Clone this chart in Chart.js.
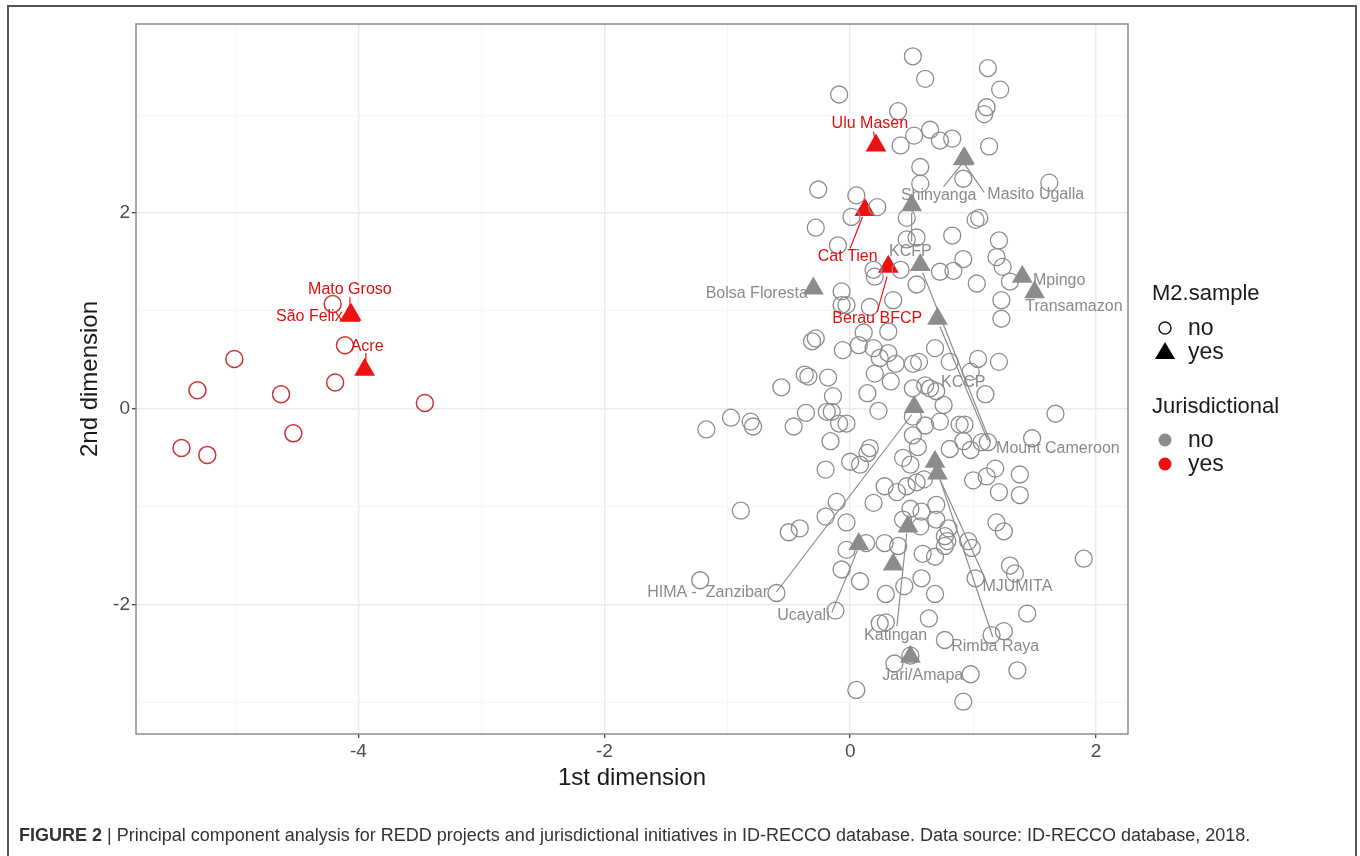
<!DOCTYPE html>
<html>
<head>
<meta charset="utf-8">
<script src="https://cdn.jsdelivr.net/npm/chart.js@4/dist/chart.umd.min.js"></script>
<style>
  html, body { margin: 0; padding: 0; background: #fff; }
  #wrap { position: relative; width: 1360px; height: 856px; overflow: hidden; }
  #frame { position: absolute; left: 7px; top: 5px; width: 1350px; height: 900px; border: 2px solid #555; box-sizing: border-box; }
  #chart { position: absolute; left: 0; top: 0; }
  #caption { position: absolute; left: 19px; top: 825px; font: 18px "Liberation Sans", Arial, sans-serif; color: #333; white-space: nowrap; }
  #caption b { font-weight: bold; }
</style>
</head>
<body>
<div id="wrap">
  <div id="frame"></div>
  <canvas id="chart" width="1360" height="856"></canvas>
  <div id="caption"><b>FIGURE 2</b> | Principal component analysis for REDD projects and jurisdictional initiatives in ID-RECCO database. Data source: ID-RECCO database, 2018.</div>
</div>
<script>
// axis ranges and tick labels
const xRange = [-5.81, 2.26];
const yRange = [-3.32, 3.93];
const xTickLabels = [-4, -2, 0, 2];
const yTickLabels = [-2, 0, 2];

// M2.sample = no, Jurisdictional = no (open grey circles)
const greyCircleX = [0.51, 0.61, 1.12, 1.22, -0.09, 1.11, 1.09, 0.39, 0.65, 0.52, 0.41, 0.73, 0.83, 1.13, 0.57, 0.92, 0.57, 1.62, -0.26, 0.05,
  0.22, 0.01, 0.46, 1.02, 1.05, -0.28, 0.83, -0.10, 0.46, 0.54, 1.21, 1.19, 0.92, 1.24, 0.73, 0.84, 0.41, 0.19, 0.20, 1.03,
  1.30, -0.07, 0.54, -0.07, -0.03, 0.16, 0.35, 1.23, 1.23, 0.11, 0.31, -0.31, -0.28, -0.06, 0.07, 0.19, 0.31, 0.24, 0.37, 0.51,
  0.56, 0.69, 0.81, 1.04, 1.21, 0.20, 0.33, 0.98, -0.37, -0.34, -0.18, -0.56, -0.14, 0.14, 0.51, 0.61, 0.65, 0.70, 0.76, 1.10,
  1.67, -1.17, -0.97, -0.81, -0.79, -0.46, -0.36, -0.19, -0.15, -0.09, -0.03, 0.23, -0.16, 0.51, 0.61, 0.73, 0.89, 0.93, 0.51, 0.55,
  0.81, 0.92, 0.98, 1.07, 1.12, 1.48, 0.00, 0.08, 0.14, 0.16, -0.20, 0.43, 0.49, 1.00, 1.11, 1.18, 1.38, 1.21, 1.38, 0.28,
  0.38, 0.46, 0.54, 0.60, -0.11, 0.19, -0.89, -0.20, -0.50, -0.41, -0.03, 0.49, 0.58, 0.70, 0.43, 0.57, 0.70, 0.80, 1.19, 1.25,
  0.13, 0.28, 0.39, -0.03, 0.77, 0.79, 0.77, 0.96, 0.99, 0.59, 0.69, -0.07, 1.30, 1.34, 1.90, 0.08, 0.58, 0.44, 1.02, -1.22,
  0.29, 0.69, -0.60, -0.12, 1.44, 0.64, 0.24, 0.29, 1.15, 1.25, 0.77, 0.36, 0.49, 0.98, 1.36, 0.05, 0.92];
const greyCircleY = [3.60, 3.37, 3.48, 3.26, 3.21, 3.08, 3.01, 3.04, 2.85, 2.79, 2.69, 2.74, 2.76, 2.68, 2.47, 2.35, 2.30, 2.31, 2.24, 2.18,
  2.06, 1.96, 1.95, 1.93, 1.95, 1.85, 1.77, 1.67, 1.73, 1.75, 1.72, 1.55, 1.53, 1.45, 1.40, 1.41, 1.42, 1.42, 1.35, 1.28,
  1.30, 1.20, 1.27, 1.06, 1.06, 1.04, 1.11, 1.11, 0.92, 0.78, 0.79, 0.69, 0.72, 0.60, 0.65, 0.62, 0.57, 0.52, 0.46, 0.46,
  0.48, 0.62, 0.48, 0.51, 0.48, 0.36, 0.28, 0.38, 0.35, 0.33, 0.32, 0.22, 0.13, 0.16, 0.21, 0.24, 0.21, 0.18, 0.04, 0.15,
  -0.05, -0.21, -0.09, -0.13, -0.18, -0.18, -0.04, -0.03, -0.03, -0.15, -0.15, -0.02, -0.33, -0.08, -0.17, -0.13, -0.16, -0.16, -0.27, -0.39,
  -0.41, -0.33, -0.42, -0.34, -0.34, -0.30, -0.54, -0.57, -0.45, -0.40, -0.62, -0.50, -0.57, -0.73, -0.69, -0.61, -0.67, -0.85, -0.88, -0.79,
  -0.85, -0.79, -0.75, -0.72, -0.95, -0.96, -1.04, -1.10, -1.26, -1.22, -1.16, -1.02, -1.05, -0.98, -1.13, -1.20, -1.13, -1.22, -1.16, -1.25,
  -1.37, -1.37, -1.40, -1.44, -1.30, -1.35, -1.40, -1.35, -1.42, -1.48, -1.51, -1.64, -1.60, -1.68, -1.53, -1.76, -1.73, -1.81, -1.73, -1.75,
  -1.89, -1.89, -1.88, -2.06, -2.09, -2.14, -2.19, -2.18, -2.31, -2.27, -2.36, -2.60, -2.52, -2.71, -2.67, -2.87, -2.99];

// M2.sample = no, Jurisdictional = yes (open red circles)
const redCircleX = [-4.21, -4.11, -5.01, -5.31, -4.19, -4.63, -3.46, -4.53, -5.44, -5.23];
const redCircleY = [1.07, 0.65, 0.51, 0.19, 0.27, 0.15, 0.06, -0.25, -0.40, -0.47];

// M2.sample = yes, Jurisdictional = no (grey triangles)
const greyTriX = [-0.30, 0.92, 0.93, 0.50, 0.57, 1.40, 1.50, 0.71, 0.52, 0.69, 0.71, 0.47, 0.07, 0.35, 0.49];
const greyTriY = [1.23, 2.55, 2.56, 2.08, 1.47, 1.35, 1.19, 0.92, 0.02, -0.54, -0.66, -1.20, -1.38, -1.59, -2.53];

// M2.sample = yes, Jurisdictional = yes (red triangles)
const redTriX = [-4.07, -4.06, -3.95, 0.21, 0.12, 0.31];
const redTriY = [0.95, 0.96, 0.40, 2.69, 2.03, 1.45];

// repelled text labels
const labelNames = ['Mato Groso', 'São Felix', 'Acre', 'Ulu Masen', 'Cat Tien', 'Berau BFCP',
  'Shinyanga', 'Masito Ugalla', 'KCFP', 'Bolsa Floresta', 'Mpingo', 'Transamazon', 'KCCP', 'Mount Cameroon',
  'HIMA -  Zanzibar', 'MJUMITA', 'Ucayali', 'Katingan', 'Rimba Raya', 'Jari/Amapa'];
const labelX = [-4.07, -4.40, -3.93, 0.16, -0.02, 0.22, 0.72, 1.51, 0.49, -0.76, 1.70, 1.82, 0.92, 1.69, -1.16, 1.36, -0.38, 0.37, 1.18, 0.59];
const labelY = [1.22, 0.94, 0.64, 2.91, 1.55, 0.92, 2.18, 2.19, 1.61, 1.18, 1.31, 1.04, 0.27, -0.41, -1.88, -1.81, -2.11, -2.32, -2.43, -2.72];
const labelJur = ['yes', 'yes', 'yes', 'yes', 'yes', 'yes', 'no', 'no', 'no', 'no', 'no', 'no', 'no', 'no', 'no', 'no', 'no', 'no', 'no', 'no'];

// label leader segments
const segX1 = [-4.07, -3.94, 0.19, 0.10, 0.30, 0.92, 0.92, 0.50, 0.59, 0.73, 0.50, 0.73, 0.73, 0.46, 0.06];
const segY1 = [1.14, 0.57, 2.83, 1.96, 1.35, 2.52, 2.52, 2.00, 1.39, 0.84, -0.06, -0.72, -0.72, -1.27, -1.44];
const segX2 = [-4.07, -3.94, 0.20, 0.00, 0.22, 0.76, 1.09, 0.50, 1.14, 1.12, -0.60, 1.10, 1.16, 0.38, -0.15];
const segY2 = [1.02, 0.49, 2.76, 1.64, 0.99, 2.27, 2.21, 1.71, -0.34, -0.32, -1.87, -1.74, -2.33, -2.22, -2.08];
const segJur = ['yes', 'yes', 'yes', 'yes', 'yes', 'no', 'no', 'no', 'no', 'no', 'no', 'no', 'no', 'no', 'no'];

const GREY = '#8c8c8c';
const RED = '#ee1111';
const RED_OPEN = '#c93434';
const FONT = '"Liberation Sans", Arial, Helvetica, sans-serif';

const toPoints = (xs, ys) => xs.map((v, i) => ({ x: v, y: ys[i] }));

const overlay = {
  id: 'overlay',
  afterDatasetsDraw(chart) {
    const { ctx, scales: { x, y } } = chart;
    ctx.save();
    ctx.lineWidth = 1.2;
    segX1.forEach((v, i) => {
      ctx.strokeStyle = segJur[i] === 'yes' ? RED : GREY;
      ctx.beginPath();
      ctx.moveTo(x.getPixelForValue(v), y.getPixelForValue(segY1[i]));
      ctx.lineTo(x.getPixelForValue(segX2[i]), y.getPixelForValue(segY2[i]));
      ctx.stroke();
    });
    ctx.font = '16px ' + FONT;
    ctx.textAlign = 'center';
    ctx.textBaseline = 'middle';
    labelNames.forEach((name, i) => {
      ctx.fillStyle = labelJur[i] === 'yes' ? '#dd1111' : '#8a8a8a';
      ctx.fillText(name, x.getPixelForValue(labelX[i]), y.getPixelForValue(labelY[i]));
    });
    ctx.restore();
  },
  afterDraw(chart) {
    const { ctx, chartArea: a } = chart;
    ctx.save();
    // panel border
    ctx.strokeStyle = '#8a8a8a';
    ctx.lineWidth = 1.5;
    ctx.strokeRect(a.left, a.top, a.right - a.left, a.bottom - a.top);

    // axis titles
    ctx.fillStyle = '#1a1a1a';
    ctx.font = '24px ' + FONT;
    ctx.textAlign = 'center';
    ctx.textBaseline = 'middle';
    ctx.fillText('1st dimension', (a.left + a.right) / 2, 778);
    ctx.save();
    ctx.translate(90, (a.top + a.bottom) / 2);
    ctx.rotate(-Math.PI / 2);
    ctx.fillText('2nd dimension', 0, 0);
    ctx.restore();

    // legend
    const lx = 1152, sx = 1165, tx = 1188;
    ctx.textAlign = 'left';
    ctx.fillStyle = '#1a1a1a';
    ctx.font = '22px ' + FONT;
    ctx.fillText('M2.sample', lx, 294);
    ctx.fillText('Jurisdictional', lx, 407);
    ctx.font = '23px ' + FONT;
    ctx.fillText('no', tx, 329);
    ctx.fillText('yes', tx, 353);
    ctx.fillText('no', tx, 441);
    ctx.fillText('yes', tx, 465);

    ctx.strokeStyle = '#1a1a1a';
    ctx.lineWidth = 1.5;
    ctx.beginPath();
    ctx.arc(sx, 328, 6, 0, Math.PI * 2);
    ctx.stroke();
    ctx.fillStyle = '#000';
    ctx.beginPath();
    ctx.moveTo(sx, 342);
    ctx.lineTo(sx + 10, 359);
    ctx.lineTo(sx - 10, 359);
    ctx.closePath();
    ctx.fill();
    ctx.fillStyle = GREY;
    ctx.beginPath();
    ctx.arc(sx, 440, 6.5, 0, Math.PI * 2);
    ctx.fill();
    ctx.fillStyle = RED;
    ctx.beginPath();
    ctx.arc(sx, 464, 6.5, 0, Math.PI * 2);
    ctx.fill();
    ctx.restore();
  }
};

const axisCommon = (labels) => ({
  type: 'linear',
  border: { display: false },
  grid: {
    color: c => labels.includes(c.tick.value) ? '#ebebeb' : '#f5f5f5',
    lineWidth: c => labels.includes(c.tick.value) ? 1.4 : 0.9,
    tickColor: c => labels.includes(c.tick.value) ? '#333' : 'rgba(0,0,0,0)',
    tickLength: 4,
    tickWidth: 1.2
  },
  ticks: {
    stepSize: 1,
    includeBounds: false,
    autoSkip: false,
    maxRotation: 0,
    color: '#4d4d4d',
    font: { family: FONT, size: 19 },
    padding: 2,
    callback: v => labels.includes(v) ? String(v) : ''
  }
});

new Chart(document.getElementById('chart'), {
  type: 'scatter',
  data: {
    datasets: [
      { label: 'grey circles', data: toPoints(greyCircleX, greyCircleY), pointStyle: 'circle', pointRadius: 8.5,
        borderColor: GREY, backgroundColor: 'rgba(0,0,0,0)', borderWidth: 1.3 },
      { label: 'red circles', data: toPoints(redCircleX, redCircleY), pointStyle: 'circle', pointRadius: 8.5,
        borderColor: RED_OPEN, backgroundColor: 'rgba(0,0,0,0)', borderWidth: 1.5 },
      { label: 'grey triangles', data: toPoints(greyTriX, greyTriY), pointStyle: 'triangle', pointRadius: 12,
        borderColor: GREY, backgroundColor: GREY, borderWidth: 0 },
      { label: 'red triangles', data: toPoints(redTriX, redTriY), pointStyle: 'triangle', pointRadius: 12,
        borderColor: RED, backgroundColor: RED, borderWidth: 0 }
    ]
  },
  options: {
    responsive: false,
    animation: false,
    events: [],
    layout: { padding: { left: 0, top: 24, right: 232, bottom: 0 } },
    plugins: { legend: { display: false }, tooltip: { enabled: false } },
    scales: {
      x: Object.assign(axisCommon(xTickLabels), {
        min: xRange[0], max: xRange[1],
        afterFit: s => { s.height = 122; }
      }),
      y: Object.assign(axisCommon(yTickLabels), {
        min: yRange[0], max: yRange[1],
        afterFit: s => { s.width = 136; }
      })
    }
  },
  plugins: [overlay]
});
</script>
</body>
</html>
